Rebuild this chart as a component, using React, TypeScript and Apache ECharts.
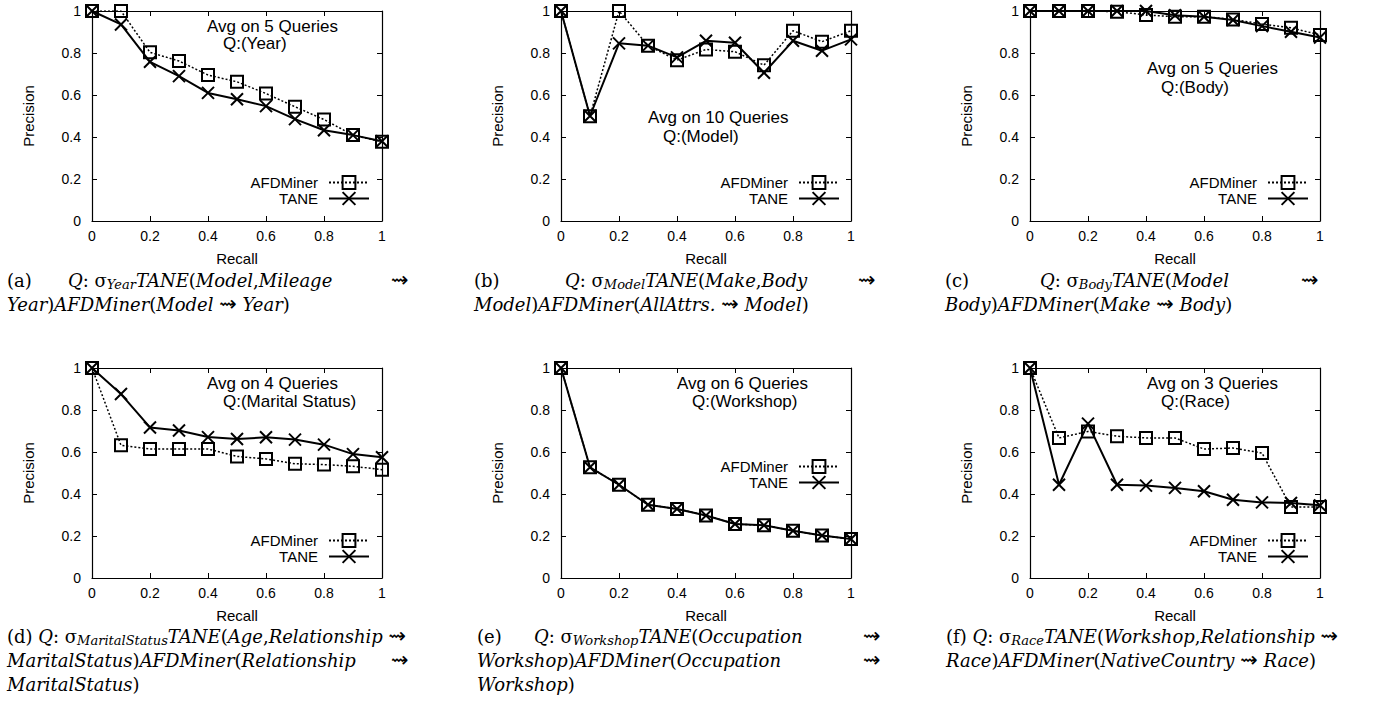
import React, { useEffect, useRef } from "react";
import * as echarts from "echarts";

// ---------- data ----------
const recall = [0, 0.1, 0.2, 0.3, 0.4, 0.5, 0.6, 0.7, 0.8, 0.9, 1];

const afdYear = [1.0, 1.0, 0.803, 0.762, 0.695, 0.663, 0.607, 0.544, 0.483, 0.409, 0.377];
const taneYear = [1.0, 0.936, 0.758, 0.69, 0.61, 0.58, 0.547, 0.485, 0.432, 0.409, 0.38];

const afdModel = [1.0, 0.499, 1.0, 0.835, 0.766, 0.817, 0.806, 0.742, 0.906, 0.854, 0.906];
const taneModel = [1.0, 0.5, 0.846, 0.835, 0.779, 0.858, 0.849, 0.706, 0.858, 0.811, 0.865];

const afdBody = [1.0, 1.0, 1.0, 0.997, 0.981, 0.973, 0.973, 0.96, 0.938, 0.92, 0.886];
const taneBody = [1.0, 1.0, 1.0, 1.0, 1.0, 0.98, 0.973, 0.957, 0.928, 0.901, 0.874];

const afdMarital = [1.0, 0.632, 0.614, 0.614, 0.614, 0.579, 0.567, 0.544, 0.54, 0.532, 0.516];
const taneMarital = [1.0, 0.876, 0.717, 0.702, 0.671, 0.662, 0.67, 0.659, 0.635, 0.59, 0.575];

const afdWorkshop = [1.0, 0.527, 0.444, 0.349, 0.329, 0.298, 0.257, 0.251, 0.225, 0.202, 0.186];
const taneWorkshop = [1.0, 0.527, 0.444, 0.349, 0.329, 0.298, 0.257, 0.251, 0.225, 0.202, 0.186];

const afdRace = [1.0, 0.667, 0.698, 0.675, 0.667, 0.667, 0.614, 0.619, 0.595, 0.338, 0.338];
const taneRace = [1.0, 0.444, 0.735, 0.444, 0.44, 0.429, 0.413, 0.373, 0.36, 0.357, 0.346];

const seriesNames = ["AFDMiner", "TANE"];
const avgLabels = [
  "Avg on 5 Queries",
  "Avg on 10 Queries",
  "Avg on 5 Queries",
  "Avg on 4 Queries",
  "Avg on 6 Queries",
  "Avg on 3 Queries",
];
const queryLabels = ["Q:(Year)", "Q:(Model)", "Q:(Body)", "Q:(Marital Status)", "Q:(Workshop)", "Q:(Race)"];

// ---------- layout ----------
const SANS = '"Liberation Sans", Arial, Helvetica, sans-serif';
const SERIF = '"DejaVu Serif", "Liberation Serif", serif';

const panels = [
  { afd: afdYear, tane: taneYear, left: 92, top: 11, ann: [207, 26, 223, 43], leg: [370, 175] },
  { afd: afdModel, tane: taneModel, left: 561, top: 11, ann: [648, 117, 663, 136], leg: [840, 175] },
  { afd: afdBody, tane: taneBody, left: 1030, top: 11, ann: [1147, 68, 1161, 87], leg: [1309, 175] },
  { afd: afdMarital, tane: taneMarital, left: 92, top: 368, ann: [207, 383, 223, 401], leg: [370, 533] },
  { afd: afdWorkshop, tane: taneWorkshop, left: 561, top: 368, ann: [677, 383, 692, 401], leg: [840, 459] },
  { afd: afdRace, tane: taneRace, left: 1030, top: 368, ann: [1147, 383, 1161, 401], leg: [1309, 533] },
];
const GW = 290;
const GH = 210;

const SQUARE = "path://M0,0H10V10H0Z";
const CROSS = "path://M0,0L10,10M10,0L0,10";

const capRich = {
  r: { fontFamily: SERIF, fontSize: 18, fontStyle: "normal", lineHeight: 22, fill: "#000" },
  i: { fontFamily: SERIF, fontSize: 18, fontStyle: "italic", lineHeight: 22, fill: "#000" },
  s: { fontFamily: SERIF, fontSize: 13, fontStyle: "italic", lineHeight: 10, verticalAlign: "bottom", fill: "#000" },
  a: { fontFamily: '"DejaVu Sans", "Noto Sans", sans-serif', fontSize: 21, lineHeight: 22, fill: "#000" },
};

const captionPieces: [number, number, string][] = [
  // (a)
  [7, 280, "{r|(a)}"],
  [68, 280, "{i|Q}{r|: σ}{s|Year}{i|TANE}{r|(}{i|Model}{r|,}{i|Mileage}"],
  [391, 280, "{a|⇝}"],
  [7, 304, "{i|Year}{r|)}{i|AFDMiner}{r|(}{i|Model }{a|⇝}{i| Year}{r|)}"],
  // (b)
  [474, 280, "{r|(b)}"],
  [565, 280, "{i|Q}{r|: σ}{s|Model}{i|TANE}{r|(}{i|Make}{r|,}{i|Body}"],
  [858, 280, "{a|⇝}"],
  [474, 304, "{i|Model}{r|)}{i|AFDMiner}{r|(}{i|AllAttrs. }{a|⇝}{i| Model}{r|)}"],
  // (c)
  [945, 280, "{r|(c)}"],
  [1040, 280, "{i|Q}{r|: σ}{s|Body}{i|TANE}{r|(}{i|Model}"],
  [1301, 280, "{a|⇝}"],
  [945, 304, "{i|Body}{r|)}{i|AFDMiner}{r|(}{i|Make }{a|⇝}{i| Body}{r|)}"],
  // (d)
  [7, 636, "{r|(d) }{i|Q}{r|: σ}{s|MaritalStatus}{i|TANE}{r|(}{i|Age}{r|,}{i|Relationship }{a|⇝}"],
  [7, 660, "{i|MaritalStatus}{r|)}{i|AFDMiner}{r|(}{i|Relationship}"],
  [391, 660, "{a|⇝}"],
  [7, 684, "{i|MaritalStatus}{r|)}"],
  // (e)
  [477, 636, "{r|(e)}"],
  [534, 636, "{i|Q}{r|: σ}{s|Workshop}{i|TANE}{r|(}{i|Occupation}"],
  [863, 636, "{a|⇝}"],
  [477, 660, "{i|Workshop}{r|)}{i|AFDMiner}{r|(}{i|Occupation}"],
  [863, 660, "{a|⇝}"],
  [477, 684, "{i|Workshop}{r|)}"],
  // (f)
  [946, 636, "{r|(f) }{i|Q}{r|: σ}{s|Race}{i|TANE}{r|(}{i|Workshop}{r|,}{i|Relationship }{a|⇝}"],
  [946, 660, "{i|Race}{r|)}{i|AFDMiner}{r|(}{i|NativeCountry }{a|⇝}{i| Race}{r|)}"],
];

function buildOption() {
  const grid: any[] = [];
  const xAxis: any[] = [];
  const yAxis: any[] = [];
  const series: any[] = [];
  const legend: any[] = [];
  const graphic: any[] = [];

  const axisLine = { show: true, onZero: false, lineStyle: { color: "#000", width: 1.2 } };
  const axisTick = { show: true, inside: true, length: 5, lineStyle: { color: "#000", width: 1 } };
  const label = { fontSize: 14, color: "#000", fontFamily: SANS };

  panels.forEach((p, i) => {
    grid.push({ left: p.left, top: p.top, width: GW, height: GH, containLabel: false });
    const base = { gridIndex: i, type: "value", min: 0, max: 1, interval: 0.2, splitLine: { show: false } };
    xAxis.push({
      ...base,
      position: "bottom",
      axisLine,
      axisTick,
      axisLabel: { ...label, margin: 8 },
      name: "Recall",
      nameLocation: "middle",
      nameGap: 30,
      nameTextStyle: { fontSize: 15, color: "#000", fontFamily: SANS },
    });
    xAxis.push({ ...base, position: "top", axisLine, axisTick, axisLabel: { show: false } });
    yAxis.push({
      ...base,
      position: "left",
      axisLine,
      axisTick,
      axisLabel: { ...label, margin: 11 },
      name: "Precision",
      nameLocation: "middle",
      nameGap: 56,
      nameTextStyle: { fontSize: 15, color: "#000", fontFamily: SANS },
    });
    yAxis.push({ ...base, position: "right", axisLine, axisTick, axisLabel: { show: false } });

    series.push({
      name: seriesNames[0],
      type: "line",
      xAxisIndex: 2 * i,
      yAxisIndex: 2 * i,
      data: recall.map((r, k) => [r, p.afd[k]]),
      symbol: SQUARE,
      symbolSize: 12,
      lineStyle: { color: "#000", width: 1.5, type: [2, 2] },
      itemStyle: { color: "rgba(0,0,0,0)", borderColor: "#000", borderWidth: 2 },
      z: 2,
    });
    series.push({
      name: seriesNames[1],
      type: "line",
      xAxisIndex: 2 * i,
      yAxisIndex: 2 * i,
      data: recall.map((r, k) => [r, p.tane[k]]),
      symbol: CROSS,
      symbolSize: 12,
      lineStyle: { color: "#000", width: 2, type: "solid" },
      itemStyle: { color: "rgba(0,0,0,0)", borderColor: "#000", borderWidth: 2 },
      z: 3,
    });

    legend.push({
      data: seriesNames,
      orient: "vertical",
      align: "right",
      right: 1379 - p.leg[0],
      top: p.leg[1],
      itemWidth: 40,
      itemHeight: 16,
      itemGap: 1,
      padding: 0,
      selectedMode: false,
      textStyle: { fontSize: 15, color: "#000", fontFamily: SANS, padding: [0, 6, 0, 0] },
    });

    graphic.push({
      type: "text",
      x: p.ann[0],
      y: p.ann[1],
      style: { text: avgLabels[i], fontSize: 17, fontFamily: SANS, fill: "#000", align: "left", verticalAlign: "middle" },
    });
    graphic.push({
      type: "text",
      x: p.ann[2],
      y: p.ann[3],
      style: { text: queryLabels[i], fontSize: 17, fontFamily: SANS, fill: "#000", align: "left", verticalAlign: "middle" },
    });
  });

  captionPieces.forEach(([x, y, t]) => {
    graphic.push({
      type: "text",
      x,
      y,
      style: { text: t, rich: capRich, fill: "#000", align: "left", verticalAlign: "middle", fontFamily: SERIF, fontSize: 18 },
    });
  });

  return {
    animation: false,
    backgroundColor: "#fff",
    grid,
    xAxis,
    yAxis,
    series,
    legend,
    graphic,
  };
}

export default function App() {
  const ref = useRef<HTMLDivElement>(null);
  useEffect(() => {
    document.body.style.margin = "0";
    if (!ref.current) return;
    const chart = echarts.init(ref.current, undefined, { renderer: "svg" });
    chart.setOption(buildOption() as any);
    return () => chart.dispose();
  }, []);
  return <div ref={ref} style={{ position: "absolute", left: 0, top: 0, width: 1379, height: 706 }} />;
}
